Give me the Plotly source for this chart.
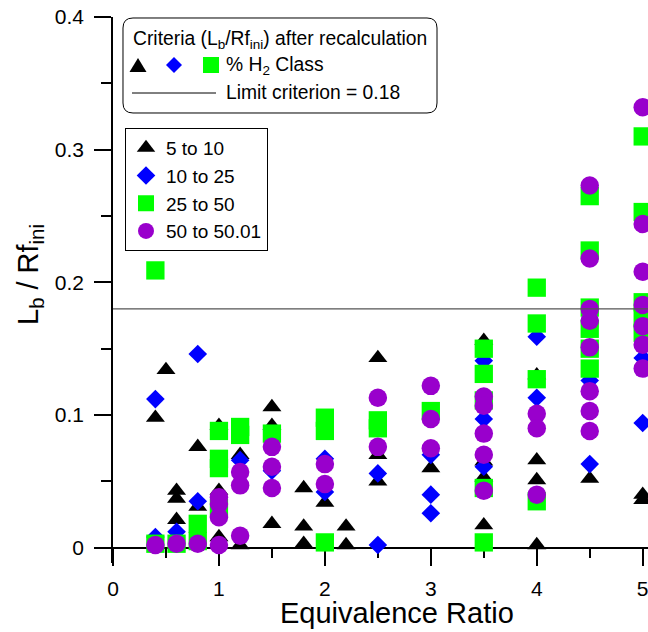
import plotly.graph_objects as go

# ---------------- data ----------------
tri_x = [0.4, 0.5, 0.6, 0.6, 0.6, 0.8, 0.8, 1.0, 1.0, 1.0, 1.2, 1.2, 1.5, 1.5, 1.5,
         1.8, 1.8, 1.8, 2.0, 2.2, 2.2, 2.5, 2.5, 2.5, 3.0, 3.5, 3.5, 3.5, 3.5,
         4.0, 4.0, 4.0, 4.0, 4.5, 5.0, 5.0]
tri_y = [0.098, 0.134, 0.043, 0.037, 0.021, 0.076, 0.031, 0.092, 0.043, 0.008, 0.070, 0.002,
         0.106, 0.092, 0.018, 0.045, 0.016, 0.003, 0.034, 0.016, 0.002, 0.143, 0.070, 0.050,
         0.060, 0.156, 0.065, 0.053, 0.017, 0.130, 0.066, 0.051, 0.002, 0.052, 0.040, 0.036]

dia_x = [0.4, 0.4, 0.6, 0.8, 0.8, 1.2, 1.5, 2.0, 2.0, 2.5, 2.5, 3.0, 3.0, 3.0,
         3.5, 3.5, 3.5, 4.0, 4.0, 4.5, 4.5, 5.0, 5.0]
dia_y = [0.112, 0.008, 0.012, 0.146, 0.035, 0.066, 0.058, 0.067, 0.042, 0.056, 0.002,
         0.070, 0.040, 0.026, 0.141, 0.097, 0.061, 0.159, 0.113, 0.126, 0.063, 0.143, 0.094]

sq_x = [0.4, 0.4, 0.6, 0.8, 0.8, 1.0, 1.0, 1.0, 1.0, 1.2, 1.2, 1.5, 2.0, 2.0, 2.0,
        2.5, 2.5, 3.0, 3.5, 3.5, 3.5, 3.5, 3.5, 4.0, 4.0, 4.0, 4.0,
        4.5, 4.5, 4.5, 4.5, 4.5, 4.5, 5.0, 5.0, 5.0, 5.0, 5.0]
sq_y = [0.209, 0.003, 0.003, 0.018, 0.005, 0.088, 0.067, 0.060, 0.030, 0.091, 0.085, 0.086,
        0.098, 0.088, 0.004, 0.096, 0.090, 0.103, 0.150, 0.131, 0.111, 0.045, 0.004,
        0.196, 0.169, 0.127, 0.035, 0.265, 0.224, 0.181, 0.165, 0.150, 0.135,
        0.310, 0.253, 0.185, 0.174, 0.162]

cir_x = [0.4, 0.6, 0.8, 1.0, 1.0, 1.0, 1.0, 1.2, 1.2, 1.2, 1.5, 1.5, 1.5, 2.0, 2.0,
         2.5, 2.5, 3.0, 3.0, 3.0, 3.5, 3.5, 3.5, 3.5, 3.5, 4.0, 4.0, 4.0,
         4.5, 4.5, 4.5, 4.5, 4.5, 4.5, 4.5, 4.5, 5.0, 5.0, 5.0, 5.0, 5.0, 5.0, 5.0]
cir_y = [0.002, 0.003, 0.003, 0.038, 0.033, 0.023, 0.002, 0.057, 0.047, 0.009, 0.076, 0.061,
         0.045, 0.063, 0.048, 0.113, 0.076, 0.122, 0.097, 0.075, 0.114, 0.107, 0.086, 0.070,
         0.043, 0.101, 0.090, 0.040, 0.273, 0.218, 0.180, 0.171, 0.151, 0.118, 0.103, 0.088,
         0.332, 0.244, 0.208, 0.183, 0.167, 0.153, 0.135]

series_names = ["5 to 10", "10 to 25", "25 to 50", "50 to 50.01"]
LIMIT = 0.18
x_ticks = [0, 1, 2, 3, 4, 5]
y_ticks = [0, 0.1, 0.2, 0.3, 0.4]
y_ticktext = ["0", "0.1", "0.2", "0.3", "0.4"]

# ---------------- layout constants ----------------
W, H = 648, 632
ML, MR, MT, MB = 113, 0, 17, 69
XMIN, XMAX = 0.0, 5.05
YMAX = 0.4
YMIN = -0.01153
FONT = "Liberation Sans, Arial, sans-serif"

def pxx(X):
    return (X - ML) / (W - ML - MR)

def pxy(Y):
    return (H - MB - Y) / (H - MT - MB)

fig = go.Figure()

styles = [
    dict(symbol="triangle-up", color="#000000", size=16.5),
    dict(symbol="diamond", color="#0000FF", size=14.3),
    dict(symbol="square", color="#00FF00", size=18.3),
    dict(symbol="circle", color="#9900CC", size=18.5),
]
data = [(tri_x, tri_y), (dia_x, dia_y), (sq_x, sq_y), (cir_x, cir_y)]
for (xs, ys), name, st in zip(data, series_names, styles):
    fig.add_trace(go.Scatter(
        x=xs, y=ys, mode="markers", name=name,
        marker=dict(symbol=st["symbol"], color=st["color"], size=st["size"],
                    line=dict(width=0)),
    ))

# limit criterion line
fig.add_shape(type="line", xref="paper", yref="y", x0=0, x1=1, y0=LIMIT, y1=LIMIT,
              line=dict(color="rgb(85,85,85)", width=1.3), layer="above")

# ---------------- criteria box (legend-like annotation) ----------------
bx0, bx1, by0, by1, rad = 123, 437, 18, 113, 10
def P(X, Y):
    return f"{pxx(X):.5f},{pxy(Y):.5f}"
path = (f"M {P(bx0+rad, by0)} L {P(bx1-rad, by0)} Q {P(bx1, by0)} {P(bx1, by0+rad)} "
        f"L {P(bx1, by1-rad)} Q {P(bx1, by1)} {P(bx1-rad, by1)} "
        f"L {P(bx0+rad, by1)} Q {P(bx0, by1)} {P(bx0, by1-rad)} "
        f"L {P(bx0, by0+rad)} Q {P(bx0, by0)} {P(bx0+rad, by0)} Z")
fig.add_shape(type="path", xref="paper", yref="paper", path=path,
              line=dict(color="black", width=1), fillcolor="white", layer="above")

# symbols row
cy = 65
tri = f"M {P(138-8.5, cy+7)} L {P(138+8.5, cy+7)} L {P(138, cy-7)} Z"
dia = f"M {P(174-8, cy)} L {P(174, cy-8)} L {P(174+8, cy)} L {P(174, cy+8)} Z"
sqp = f"M {P(211-8, cy-8)} L {P(211+8, cy-8)} L {P(211+8, cy+8)} L {P(211-8, cy+8)} Z"
for pth, col in [(tri, "#000000"), (dia, "#0000FF"), (sqp, "#00FF00")]:
    fig.add_shape(type="path", xref="paper", yref="paper", path=pth,
                  line=dict(width=0), fillcolor=col, layer="above")
fig.add_shape(type="line", xref="paper", yref="paper",
              x0=pxx(132), x1=pxx(216), y0=pxy(93), y1=pxy(93),
              line=dict(color="black", width=1), layer="above")

ann_font = dict(family=FONT, size=19.3, color="black")
fig.add_annotation(xref="paper", yref="paper", x=pxx(131), y=pxy(40), xanchor="left",
                   yanchor="middle", showarrow=False, font=ann_font,
                   text="Criteria (L<sub>b</sub>/Rf<sub>ini</sub>) after recalculation")
fig.add_annotation(xref="paper", yref="paper", x=pxx(224), y=pxy(66), xanchor="left",
                   yanchor="middle", showarrow=False, font=ann_font,
                   text="% H<sub>2</sub> Class")
fig.add_annotation(xref="paper", yref="paper", x=pxx(224), y=pxy(93), xanchor="left",
                   yanchor="middle", showarrow=False, font=ann_font,
                   text=f"Limit criterion = {LIMIT}")

# axis titles
fig.add_annotation(xref="paper", yref="paper", x=pxx(397), y=pxy(613), xanchor="center",
                   yanchor="middle", showarrow=False,
                   font=dict(family=FONT, size=29, color="black"),
                   text="Equivalence Ratio")
fig.add_annotation(xref="paper", yref="paper", x=pxx(30), y=pxy(275), xanchor="center",
                   yanchor="middle", showarrow=False, textangle=-90,
                   font=dict(family=FONT, size=29, color="black"),
                   text="L<sub>b</sub> / Rf<sub>ini</sub>")

tick_font = dict(family=FONT, size=21, color="black")
fig.update_layout(
    width=W, height=H,
    margin=dict(l=ML, r=MR, t=MT, b=MB, pad=0),
    plot_bgcolor="white", paper_bgcolor="white",
    font=dict(family=FONT, color="black"),
    showlegend=True,
    legend=dict(
        x=pxx(125), y=pxy(128), xanchor="left", yanchor="top",
        bgcolor="white", bordercolor="black", borderwidth=1,
        font=dict(family=FONT, size=19, color="black"),
        itemsizing="trace", tracegroupgap=0,
        entrywidth=125, entrywidthmode="pixels",
    ),
    xaxis=dict(
        range=[XMIN, XMAX], anchor="free", position=(0 - YMIN) / (YMAX - YMIN),
        showgrid=False, zeroline=False, showline=True, linecolor="black", linewidth=1.5,
        tickmode="array", tickvals=x_ticks, ticktext=[str(v) for v in x_ticks],
        ticks="outside", ticklen=18, tickwidth=1.5, tickcolor="black",
        minor=dict(dtick=0.5, ticks="outside", ticklen=10, tickwidth=1.5, tickcolor="black"),
        tickfont=tick_font, ticklabelstandoff=4, ticklabeloverflow="allow",
        layer="below traces",
    ),
    yaxis=dict(
        range=[YMIN, YMAX],
        showgrid=False, zeroline=False, showline=True, linecolor="black", linewidth=1.5,
        tickmode="array", tickvals=y_ticks, ticktext=y_ticktext,
        ticks="outside", ticklen=17, tickwidth=1.5, tickcolor="black",
        minor=dict(tickvals=[0.05, 0.15, 0.25, 0.35], ticks="outside", ticklen=10,
                   tickwidth=1.5, tickcolor="black"),
        tickfont=tick_font, ticklabelstandoff=6,
    ),
)

fig.write_html("out.html", config={"displayModeBar": False},
               post_script="document.body.style.margin='0';")
